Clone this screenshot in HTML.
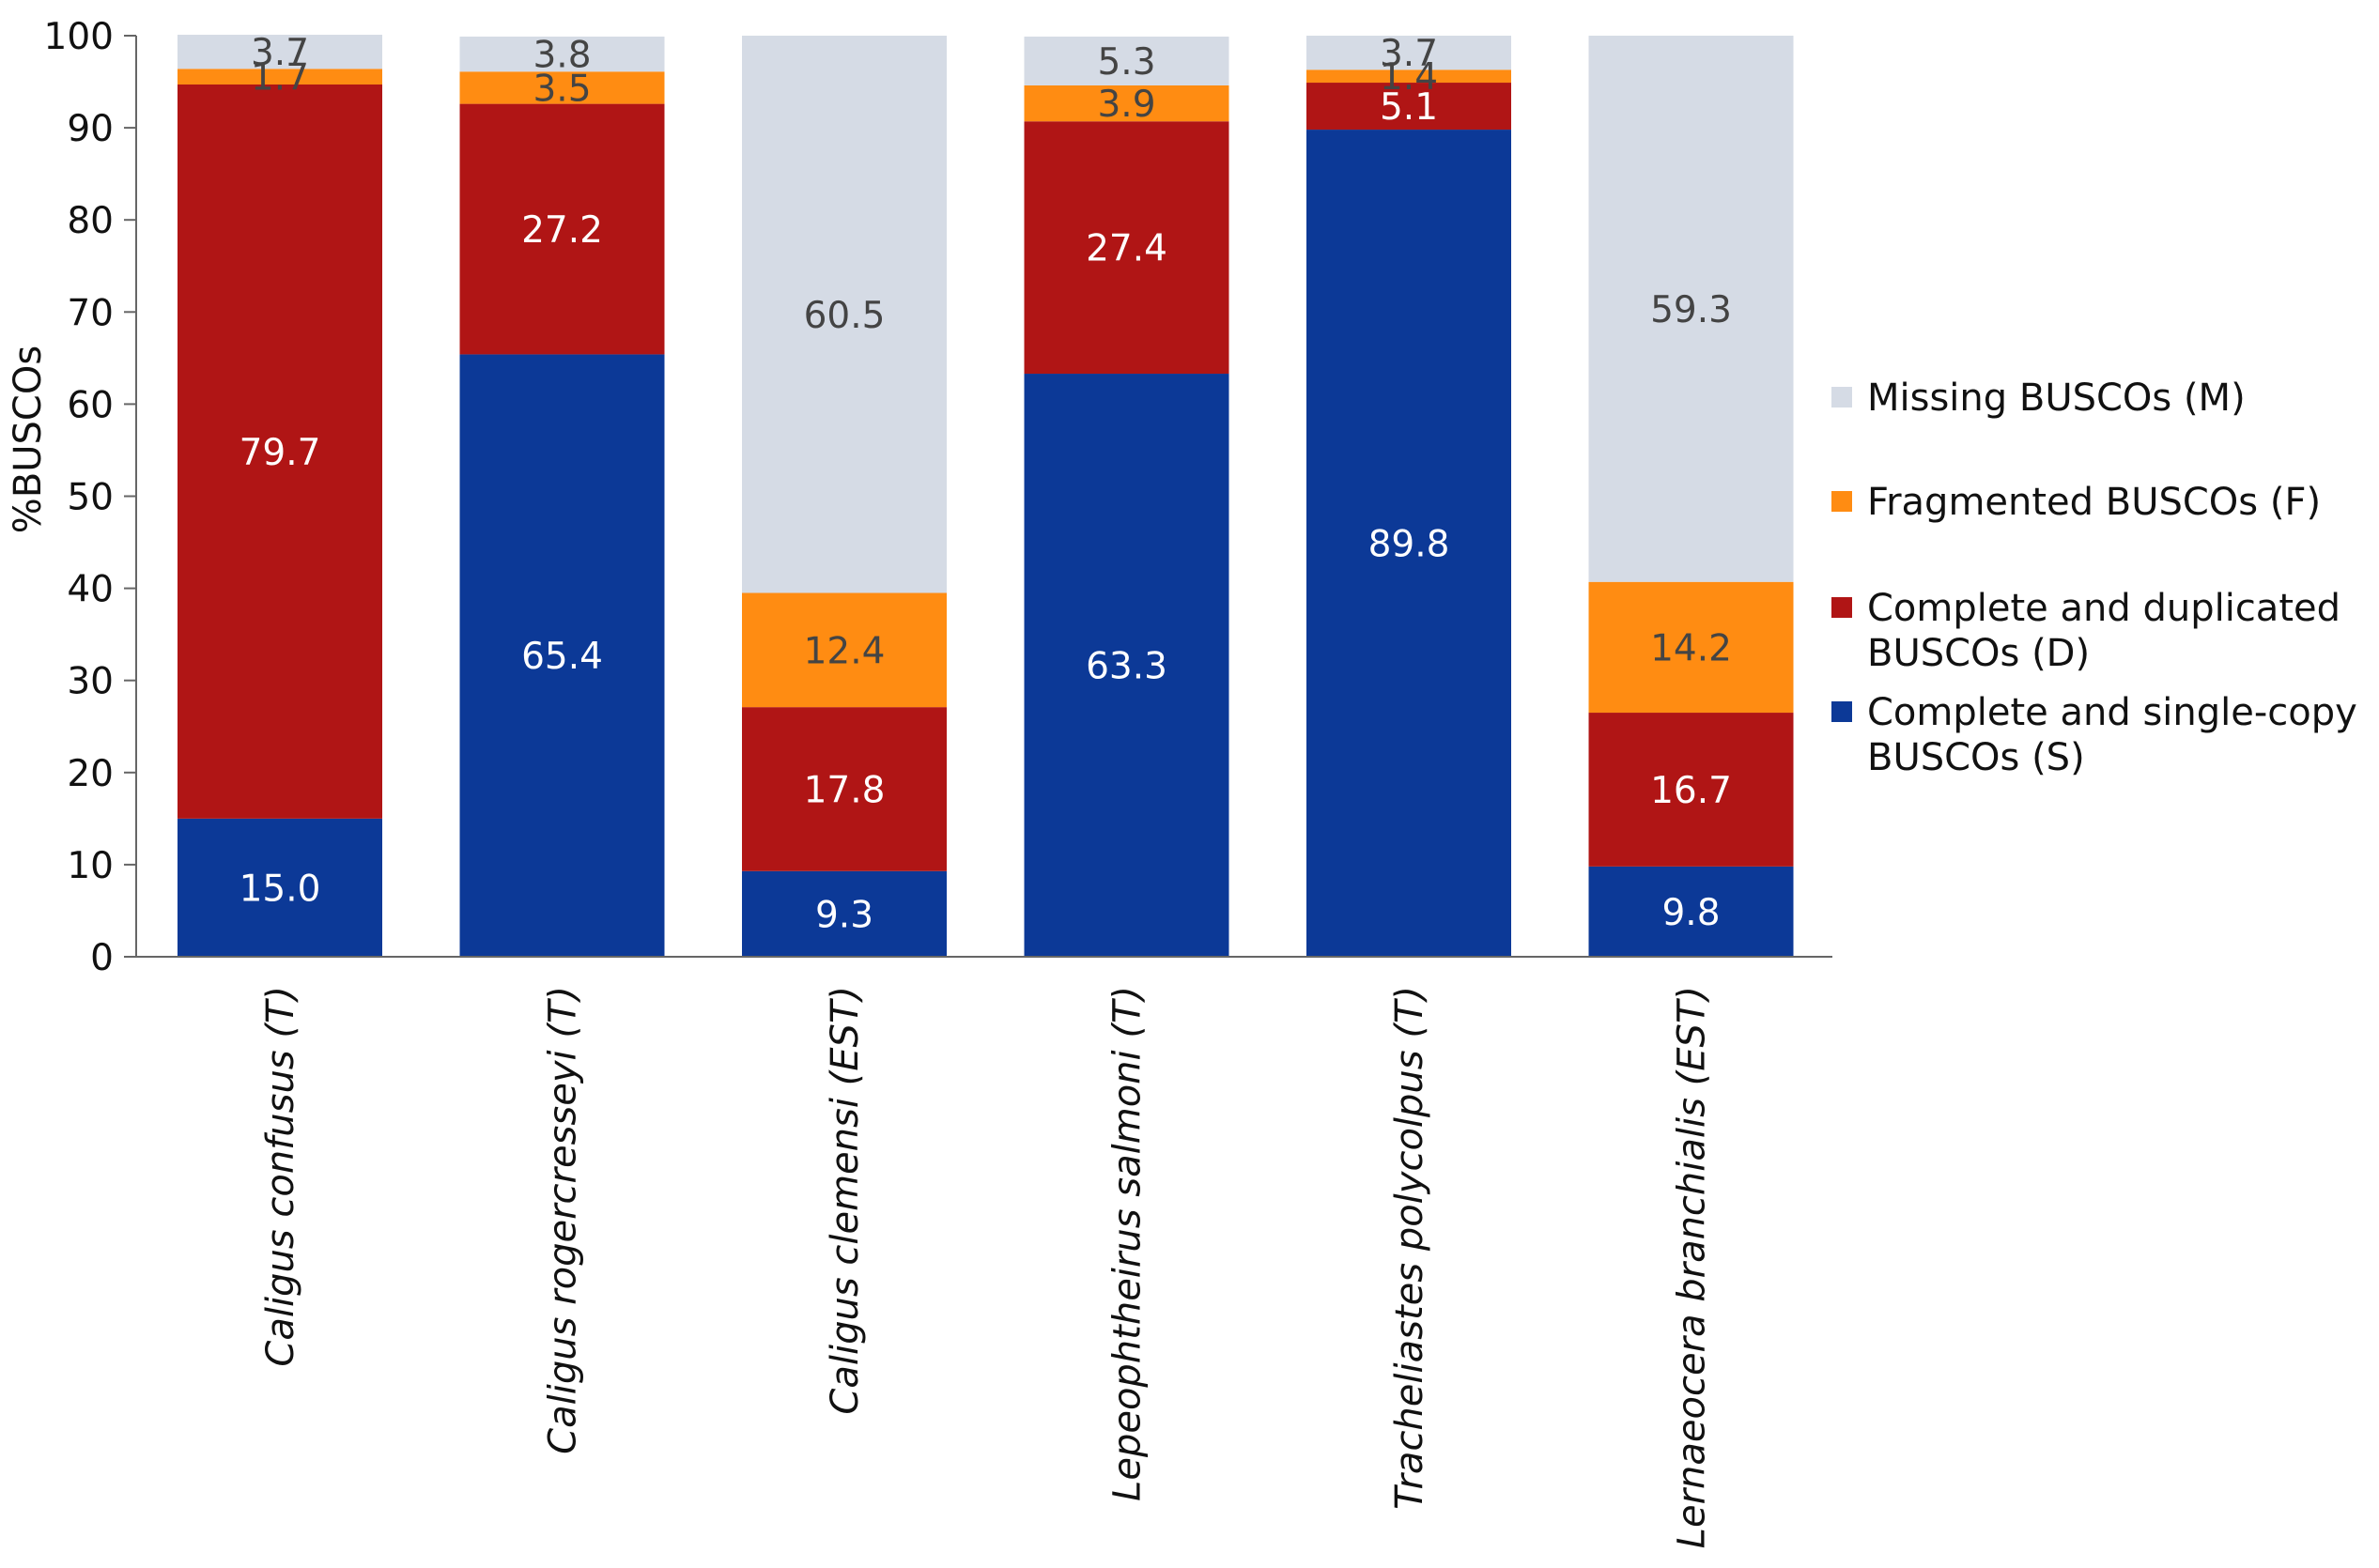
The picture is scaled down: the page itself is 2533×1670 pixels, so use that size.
<!DOCTYPE html>
<html><head><meta charset="utf-8"><style>
html,body{margin:0;padding:0;background:#fff;}
svg{display:block;font-family:"DejaVu Sans","Liberation Sans",sans-serif;}
</style></head><body>
<svg id="chart" width="2533" height="1670" viewBox="0 0 2533 1670" xmlns="http://www.w3.org/2000/svg"></svg>
<script>
const categories = ["Caligus confusus (T)","Caligus rogercresseyi (T)","Caligus clemensi (EST)","Lepeophtheirus salmoni (T)","Tracheliastes polycolpus (T)","Lernaeocera branchialis (EST)"];
const singleVals = [15.0, 65.4, 9.3, 63.3, 89.8, 9.8];
const dupVals = [79.7, 27.2, 17.8, 27.4, 5.1, 16.7];
const fragVals = [1.7, 3.5, 12.4, 3.9, 1.4, 14.2];
const missVals = [3.7, 3.8, 60.5, 5.3, 3.7, 59.3];
const yTicks = [0,10,20,30,40,50,60,70,80,90,100];
const legendLabels = [["Missing BUSCOs (M)"],["Fragmented BUSCOs (F)"],["Complete and duplicated","BUSCOs (D)"],["Complete and single-copy","BUSCOs (S)"]];

const svg = document.getElementById('chart');
const NS = 'http://www.w3.org/2000/svg';
const y0 = 1019, y100 = 38;
const yScale = v => y0 - (y0 - y100) * v / 100;
const barW = 218, step = 300.5, firstX = 189;
const xScale = i => firstX + i * step;
function mk(tag, attrs){const e=document.createElementNS(NS,tag);for(const k in attrs)e.setAttribute(k,attrs[k]);svg.appendChild(e);return e;}

const series = [
  {vals: singleVals, color:'#0c3997', text:'#ffffff', name:'single'},
  {vals: dupVals, color:'#b01515', text:'#ffffff', name:'duplicated'},
  {vals: fragVals, color:'#ff8c12', text:'#444444', name:'fragmented'},
  {vals: missVals, color:'#d5dbe5', text:'#444444', name:'missing'}
];

categories.forEach((c,i)=>{
  let cum = 0;
  series.forEach(s=>{
    const v = s.vals[i];
    const yt = yScale(cum + v), yb = yScale(cum);
    const r = mk('rect',{x:xScale(i),y:yt,width:barW,height:Math.max(0,yb-yt),fill:s.color});
    
    
    cum += v;
  });
  cum = 0;
  series.forEach(s=>{
    const v = s.vals[i];
    const yc = yScale(cum + v/2);
    const t = mk('text',{x:xScale(i)+barW/2,y:yc+14,'text-anchor':'middle','font-size':39,fill:s.text});
    t.textContent = v.toFixed(1);
    
    
    cum += v;
  });
  const lx = xScale(i)+barW/2+14, ly = 1050;
  const lt = mk('text',{x:lx,y:ly,'text-anchor':'end','font-size':40,'font-style':'italic',fill:'#111',transform:`rotate(-90 ${lx} ${ly})`});
  lt.textContent = c;
  
  
});

const ya = mk('line',{x1:145,y1:y100,x2:145,y2:y0,stroke:'#666','stroke-width':2});


const xa = mk('line',{x1:132,y1:y0,x2:1951,y2:y0,stroke:'#666','stroke-width':2});


yTicks.forEach(t=>{
  const y = yScale(t);
  const tk = mk('line',{x1:132,y1:y,x2:145,y2:y,stroke:'#666','stroke-width':2});
  
  
  const tl = mk('text',{x:121,y:y+14,'text-anchor':'end','font-size':39,fill:'#111'});
  tl.textContent = t;
  
  
});
const yt = mk('text',{x:43,y:468,'text-anchor':'middle','font-size':40,fill:'#111',transform:'rotate(-90 43 468)'});
yt.textContent = '%BUSCOs';



const legendColors = ['#d5dbe5','#ff8c12','#b01515','#0c3997'];
const legendY = [423, 534, 647, 758];
legendLabels.forEach((lines,i)=>{
  const sq = mk('rect',{x:1950,y:legendY[i]-11,width:22,height:22,fill:legendColors[i]});
  
  
  lines.forEach((ln,j)=>{
    const t = mk('text',{x:1988,y:legendY[i]+14+j*48,'font-size':40,fill:'#111'});
    t.textContent = ln;
    
    
  });
});
</script>
</body></html>
